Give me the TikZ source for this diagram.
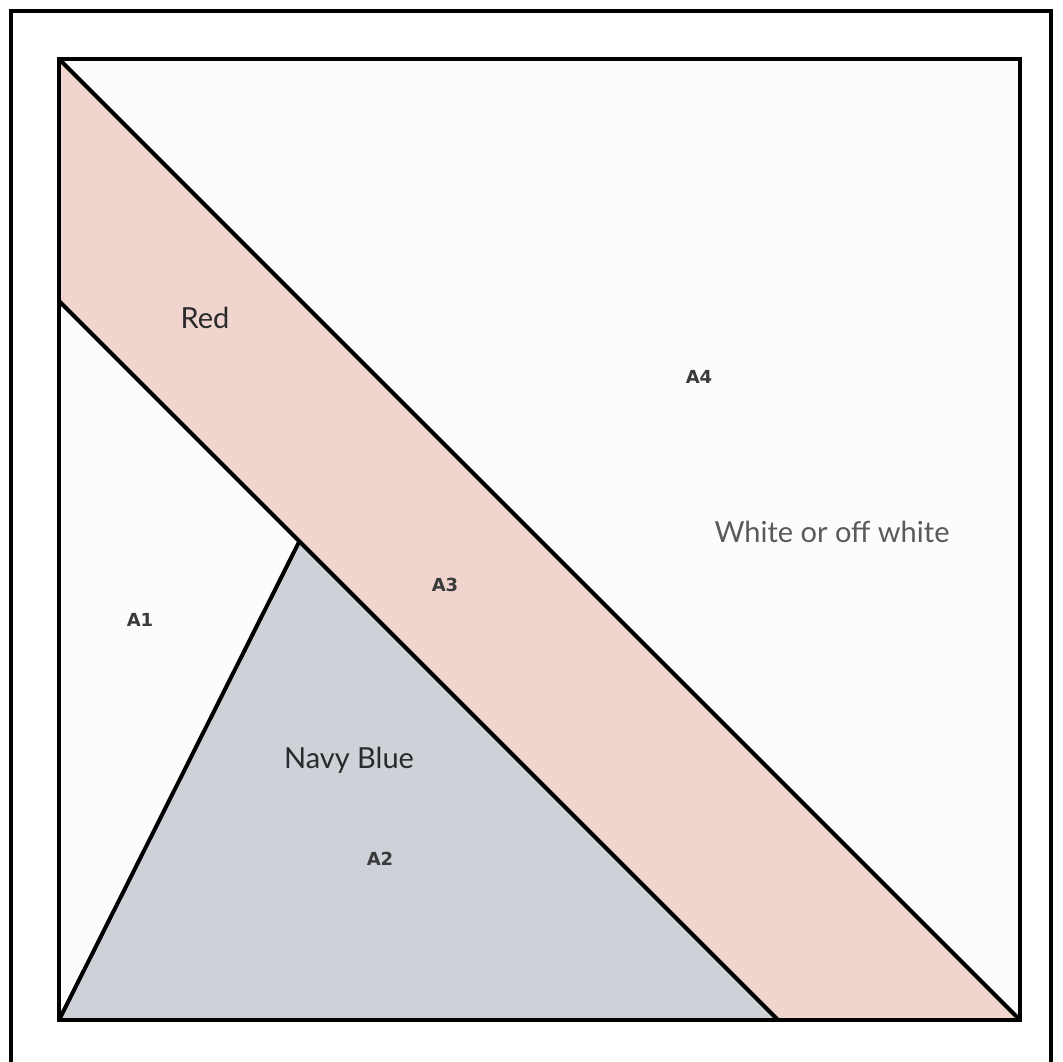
\documentclass[tikz,border=0pt]{standalone}
\usepackage{fontspec}
\setmainfont{Lato}
\newfontfamily\labfont{DejaVu Sans}
\definecolor{redfill}{HTML}{F0D5CF}
\definecolor{navyfill}{HTML}{CDD2D9}
\definecolor{offwhite}{HTML}{FCFCFC}
\definecolor{txtdark}{HTML}{2A2A2A}
\definecolor{txtgray}{HTML}{5A5A5A}
\definecolor{labgray}{HTML}{3A3A3A}
\tikzset{
  edge/.style={draw=black,line width=4pt,line join=miter},
  colourname/.style={inner sep=0pt,anchor=base,font=\fontsize{29}{29}\selectfont,text=txtdark},
  arealabel/.style={inner sep=0pt,anchor=base,font=\labfont\bfseries\fontsize{18}{18}\selectfont,text=labgray}
}
\begin{document}
\begin{tikzpicture}[x=1pt,y=-1pt]
\useasboundingbox (0,0) rectangle (1063,1061);
\fill[white] (0,0) rectangle (1063,1061);
% outer frame
\draw[line width=3.6pt] (11,1070) -- (11,11) -- (1051,11) -- (1051,1070);
% corners of the block
\coordinate (tl) at (59,59);
\coordinate (tr) at (1020,59);
\coordinate (br) at (1020,1020);
\coordinate (bl) at (59,1020);
\coordinate (rl) at (59,301);
\coordinate (rb) at (778,1020);
\coordinate (apex) at (299,542);
% fills
\fill[offwhite] (tl) rectangle (br);
\fill[redfill] (tl) -- (br) -- (rb) -- (rl) -- cycle;
\fill[navyfill] (bl) -- (apex) -- (rb) -- cycle;
% lines
\draw[edge] (tl) -- (br);
\draw[edge] (rl) -- (rb);
\draw[edge] (bl) -- (apex);
\draw[edge] (tl) rectangle (br);
% texts
\node[colourname] (red) at (205,328) {Red};
\node[colourname] (navy) at (349,768) {Navy Blue};
\node[colourname,text=txtgray] (white) at (832,542) {White or off white};
\node[arealabel] (a1) at (140,626) {A1};
\node[arealabel] (a2) at (380,865) {A2};
\node[arealabel] (a3) at (445,591) {A3};
\node[arealabel] (a4) at (699,383) {A4};
\end{tikzpicture}
\end{document}
